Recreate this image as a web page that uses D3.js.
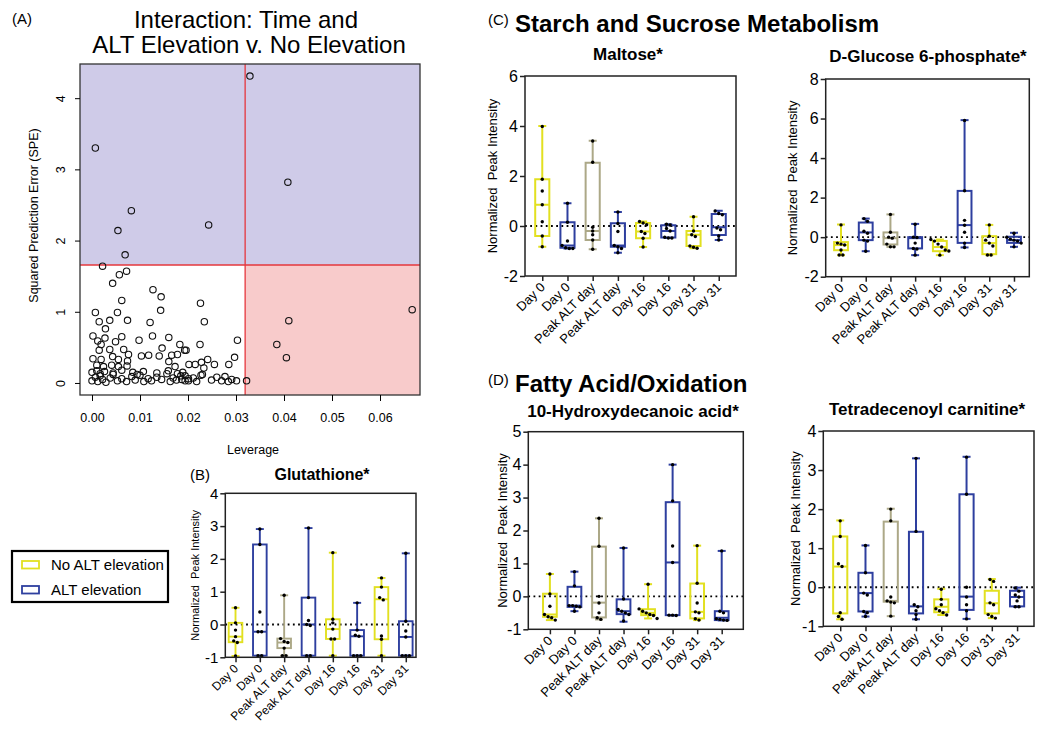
<!DOCTYPE html>
<html><head><meta charset="utf-8">
<script src="https://cdn.jsdelivr.net/npm/d3@7"></script>
<style>body{margin:0;background:#fff} svg{display:block} text{font-family:"Liberation Sans",Arial,sans-serif;fill:#000}</style>
</head><body><svg id="c" width="1050" height="729"></svg>
<script>
// ---------------- DATA ----------------
// Panel A: [leverage, SPE]
const scatterPoints = [
 [0.0329,4.31],[0.0007,3.30],[0.0082,2.42],[0.0054,2.14],[0.0069,1.80],[0.0243,2.22],[0.0408,2.82],
 [0.0410,0.875],[0.0385,0.54],[0.0405,0.355],[0.0667,1.03],[0.0322,0.03],
 [0.0022,1.64],[0.0057,1.52],[0.0072,1.57],[0.0043,1.40],[0.0127,1.31],[0.0144,1.21],[0.0062,1.16],[0.0143,1.02],
 [0.0007,0.99],[0.0053,0.99],[0.0015,0.86],[0.0037,0.88],[0.0074,0.88],[0.0121,0.85],[0.0028,0.76],[0.0002,0.66],
 [0.0027,0.63],[0.0012,0.59],[0.0062,0.65],[0.0098,0.60],[0.0126,0.66],[0.0160,0.64],[0.0049,0.58],[0.0019,0.54],
 [0.0015,0.46],[0.0037,0.47],[0.0066,0.47],[0.0076,0.40],[0.0103,0.38],[0.0118,0.39],[0.0146,0.49],[0.0140,0.38],
 [0.0166,0.39],[0.0178,0.40],[0.0193,0.46],[0.0002,0.34],[0.0019,0.33],[0.0043,0.37],[0.0055,0.33],[0.0074,0.31],
 [0.0010,0.25],[0.0024,0.23],[0.0041,0.25],[0.0055,0.23],[0.0073,0.24],[0.0173,0.23],[0.0160,0.30],
 [0.0226,1.12],[0.0234,0.86],[0.0303,0.60],[0.0225,0.54],[0.0196,0.46],[0.0183,0.54],[0.0297,0.36],[0.0241,0.33],
 [0.0202,0.26],[0.0215,0.26],[0.0228,0.29],[0.0255,0.26],[0.0285,0.26],[0.0233,0.21],[0.0227,0.11],
 [0.0000,0.03],[0.0007,0.08],[0.0012,0.02],[0.0017,0.10],[0.0022,0.05],[0.0029,0.01],[0.0038,0.07],[0.0044,0.12],
 [0.0053,0.03],[0.0062,0.06],[0.0072,0.02],[0.0083,0.09],[0.0090,0.04],[0.0100,0.11],[0.0108,0.02],[0.0117,0.06],
 [0.0124,0.03],[0.0135,0.08],[0.0145,0.05],[0.0156,0.13],[0.0163,0.02],[0.0169,0.07],[0.0176,0.04],[0.0185,0.10],
 [0.0194,0.03],[0.0201,0.06],
 [0.0000,0.15],[0.0010,0.17],[0.0017,0.13],[0.0026,0.16],[0.0044,0.14],[0.0062,0.18],[0.0085,0.15],[0.0094,0.12],
 [0.0107,0.16],[0.0135,0.14],[0.0159,0.17],[0.0178,0.13],[0.0189,0.15],
 [0.0187,0.05],[0.0194,0.10],[0.0201,0.03],[0.0211,0.07],[0.0218,0.02],[0.0230,0.12],[0.0249,0.04],[0.0260,0.08],
 [0.0270,0.03],[0.0277,0.09],[0.0284,0.02],[0.0291,0.05],[0.0301,0.03]
];
const speLimit = 1.657;
const leverageLimit = 0.0319;
const leverageTicks = [0,0.01,0.02,0.03,0.04,0.05,0.06];
const speTicks = [0,1,2,3,4];

// Box-plot categories
const boxCategories = ["Day 0","Day 0","Peak ALT day","Peak ALT day","Day 16","Day 16","Day 31","Day 31"];
const boxGroups = ["no","alt","peak","alt","no","alt","no","alt"];
const legendLabels = ["No ALT elevation","ALT elevation"];

// stats: [min, q1, median, q3, max]
const glutathioneStats = [
 [-0.96,-0.54,-0.37,0.05,0.51],[-0.95,-0.95,-0.22,2.44,2.91],[-0.95,-0.72,-0.55,-0.43,0.89],[-0.95,-0.95,0.0,0.82,2.94],
 [-0.95,-0.44,-0.14,0.16,2.19],[-0.95,-0.95,-0.36,-0.17,0.66],[-0.95,-0.45,0.77,1.14,1.42],[-0.95,-0.95,-0.38,0.1,2.17]];
const glutathionePoints = [
 [0.51,0.05,-0.17,-0.37,-0.5,-0.55,-0.96],[2.91,2.44,0.38,-0.22,-0.22,-0.95,-0.95],[0.89,-0.43,-0.52,-0.55,-0.72,-0.95,-0.95],
 [2.94,0.82,0.12,0.0,-0.03,-0.95,-0.95],[2.19,0.16,0.05,-0.14,-0.44,-0.44,-0.95],[0.66,-0.17,-0.33,-0.36,-0.95,-0.95,-0.95],
 [1.42,1.14,0.82,0.75,-0.35,-0.45,-0.95],[2.17,0.1,-0.38,-0.2,-0.95,-0.95,-0.95]];
const glutathioneTicks = [-1,0,1,2,3,4];

const maltoseStats = [
 [-0.83,-0.4,0.85,1.87,4.0],[-0.9,-0.87,-0.78,0.15,0.91],[-0.93,-0.56,-0.2,2.53,3.41],[-1.07,-0.83,-0.78,0.11,0.56],
 [-0.84,-0.49,-0.22,0.12,0.18],[-0.48,-0.46,-0.2,0.03,0.07],[-0.89,-0.8,-0.35,-0.2,0.37],[-0.56,-0.36,-0.05,0.48,0.61]];
const maltosePoints = [
 [3.98,1.87,1.4,0.85,0.17,-0.4,-0.83],[0.91,0.15,-0.6,-0.78,-0.87,-0.9,-0.9],[3.4,2.55,-0.05,-0.2,-0.35,-0.56,-0.93],
 [0.56,0.1,-0.22,-0.78,-0.83,-0.9,-1.07],[0.18,0.12,0.05,-0.22,-0.3,-0.49,-0.84],[0.07,0.04,-0.1,-0.2,-0.45,-0.48,-0.48],
 [0.37,-0.2,-0.35,-0.42,-0.8,-0.85,-0.89],[0.6,0.5,0.45,-0.08,-0.15,-0.4,-0.56]];
const maltoseTicks = [-2,0,2,4,6];

const g6pStats = [
 [-0.91,-0.66,-0.4,-0.25,0.64],[-0.71,-0.15,0.24,0.74,0.94],[-0.49,-0.37,-0.05,0.24,1.15],[-0.91,-0.57,-0.05,0.0,0.67],
 [-0.91,-0.71,-0.5,-0.19,-0.12],[-0.52,-0.29,0.61,2.34,5.92],[-0.91,-0.86,-0.3,0.05,0.62],[-0.49,-0.29,-0.15,0.02,0.22]];
const g6pPoints = [
 [0.62,-0.3,-0.35,-0.4,-0.65,-0.9,-0.9],[0.94,0.8,0.3,0.2,-0.15,-0.2,-0.71],[1.15,0.25,0.0,-0.05,-0.35,-0.49,-0.49],
 [0.65,0.0,-0.02,-0.3,-0.57,-0.6,-0.91],[-0.12,-0.2,-0.35,-0.5,-0.65,-0.7,-0.91],[5.9,2.35,0.85,0.6,0.25,-0.3,-0.52],
 [0.62,0.05,-0.15,-0.3,-0.45,-0.9,-0.9],[0.2,0.0,-0.1,-0.15,-0.2,-0.3,-0.49]];
const g6pTicks = [-2,0,2,4,6,8];

const hdaStats = [
 [-0.72,-0.62,-0.55,0.08,0.68],[-0.45,-0.32,-0.28,0.29,0.75],[-0.7,-0.64,-0.19,1.51,2.37],[-0.77,-0.54,-0.45,-0.09,1.47],
 [-0.67,-0.57,-0.5,-0.39,0.37],[-0.58,-0.57,1.03,2.86,4.0],[-0.72,-0.67,-0.47,0.39,1.54],[-0.73,-0.72,-0.65,-0.45,1.38]];
const hdaPoints = [
 [0.68,0.07,-0.3,-0.55,-0.62,-0.65,-0.72],[0.75,0.32,-0.28,-0.28,-0.3,-0.32,-0.45],[2.37,1.52,0.0,-0.2,-0.5,-0.65,-0.7],
 [1.47,-0.08,-0.4,-0.45,-0.5,-0.55,-0.75],[0.37,-0.38,-0.45,-0.5,-0.55,-0.58,-0.67],[4.0,2.9,1.53,1.03,-0.57,-0.57,-0.58],
 [1.54,0.4,-0.2,-0.47,-0.5,-0.68,-0.72],[1.38,-0.45,-0.5,-0.68,-0.7,-0.72,-0.73]];
const hdaTicks = [-1,0,1,2,3,4,5];

const tdcStats = [
 [-0.82,-0.67,0.53,1.3,1.71],[-0.75,-0.62,-0.15,0.37,1.07],[-0.74,-0.37,-0.35,1.68,2.01],[-0.82,-0.67,-0.49,1.42,3.3],
 [-0.71,-0.64,-0.5,-0.31,-0.04],[-0.81,-0.58,-0.24,2.38,3.34],[-0.79,-0.67,-0.41,-0.09,0.21],[-0.5,-0.49,-0.25,-0.09,-0.01]];
const tdcPoints = [
 [1.7,1.3,0.6,0.53,-0.65,-0.75,-0.82],[1.07,0.37,-0.15,-0.2,-0.62,-0.65,-0.75],[2.0,1.7,-0.25,-0.35,-0.38,-0.4,-0.74],
 [3.3,1.43,-0.45,-0.5,-0.6,-0.7,-0.82],[-0.05,-0.31,-0.45,-0.55,-0.6,-0.65,-0.71],[3.33,2.38,0.0,-0.25,-0.45,-0.6,-0.81],
 [0.2,0.15,-0.4,-0.45,-0.7,-0.75,-0.79],[-0.02,-0.1,-0.2,-0.25,-0.35,-0.5,-0.5]];
const tdcTicks = [-1,0,1,2,3,4];

// ---------------- STYLE ----------------
const colorMap = {no:"#e2e020", alt:"#2e3f9f", peak:"#aca887"};
const svg = d3.select("#c");
const FONT = '"Liberation Sans",Arial,sans-serif';

// ---------------- PANEL A ----------------
(function(){
  const L=80,R=420,T=64,B=395;
  const x = d3.scaleLinear().domain([-0.0025,0.06833]).range([L,R]);
  const y = d3.scaleLinear().domain([-0.169,4.48]).range([B,T]);
  const g = svg.append("g");
  const xl = x(leverageLimit), yl = y(speLimit);
  g.append("rect").attr("x",L).attr("y",T).attr("width",R-L).attr("height",yl-T).attr("fill","#cfcbe8");
  g.append("rect").attr("x",xl).attr("y",yl).attr("width",R-xl).attr("height",B-yl).attr("fill","#f8cbcb");
  g.append("line").attr("x1",L).attr("x2",R).attr("y1",yl).attr("y2",yl).attr("stroke","#e5373d").attr("stroke-width",1.3);
  g.append("line").attr("x1",xl).attr("x2",xl).attr("y1",T).attr("y2",B).attr("stroke","#e5373d").attr("stroke-width",1.3);
  g.selectAll("circle.p").data(scatterPoints).enter().append("circle")
    .attr("cx",d=>x(d[0])).attr("cy",d=>y(d[1])).attr("r",3.2)
    .attr("fill","none").attr("stroke","#111").attr("stroke-width",1.1);
  g.append("rect").attr("x",L).attr("y",T).attr("width",R-L).attr("height",B-T)
    .attr("fill","none").attr("stroke","#333").attr("stroke-width",1.3);
  const xa = g.append("g").attr("transform",`translate(0,${B})`)
    .call(d3.axisBottom(x).tickValues(leverageTicks).tickSize(6).tickSizeOuter(0).tickFormat(d3.format(".2f")));
  xa.select(".domain").remove();
  xa.selectAll("text").attr("font-size",12.5).attr("font-family",FONT).attr("dy","1.4em");
  const ya = g.append("g").attr("transform",`translate(${L},0)`)
    .call(d3.axisLeft(y).tickValues(speTicks).tickSize(5).tickSizeOuter(0).tickFormat(d3.format("d")));
  ya.select(".domain").remove();
  ya.selectAll("text").attr("font-size",12.5).attr("font-family",FONT)
    .attr("text-anchor","middle").attr("x",0).attr("dy",0)
    .attr("transform","translate(-19,0) rotate(-90)").attr("dy","0.35em");
  g.append("text").attr("x",253).attr("y",454).attr("text-anchor","middle").attr("font-size",12.5).text("Leverage");
  g.append("text").attr("transform",`translate(38,${(T+B)/2-14}) rotate(-90)`).attr("text-anchor","middle")
    .attr("font-size",12.5).text("Squared Prediction Error (SPE)");
  svg.append("text").attr("x",12).attr("y",24).attr("font-size",15).text("(A)");
  svg.append("text").attr("x",246).attr("y",28).attr("text-anchor","middle").attr("font-size",24).text("Interaction: Time and");
  svg.append("text").attr("x",249).attr("y",53).attr("text-anchor","middle").attr("font-size",24).text("ALT Elevation v. No Elevation");
})();

// ---------------- BOX PANELS ----------------
function boxPanel(cfg, stats, points, ticks){
  const g = svg.append("g");
  const x = d3.scalePoint().domain(d3.range(boxCategories.length)).range([cfg.L,cfg.R]).padding(cfg.pad);
  const y = d3.scaleLinear().domain([ticks[0],ticks[ticks.length-1]]).range([cfg.B,cfg.T]);
  const step = x.step(), bw = step*0.56, cap = 4;
  // zero dotted line
  g.append("line").attr("x1",cfg.L).attr("x2",cfg.R).attr("y1",y(0)).attr("y2",y(0))
    .attr("stroke","#000").attr("stroke-width",1.8).attr("stroke-dasharray","1.8,3.4");
  const bx = g.selectAll("g.box").data(stats).enter().append("g");
  bx.each(function(s,i){
    const gg=d3.select(this), cx=x(i), col=colorMap[boxGroups[i]];
    const sw = cfg.sw||2;
    gg.append("line").attr("x1",cx).attr("x2",cx).attr("y1",y(s[4])).attr("y2",y(s[3])).attr("stroke",col).attr("stroke-width",sw);
    gg.append("line").attr("x1",cx).attr("x2",cx).attr("y1",y(s[1])).attr("y2",y(s[0])).attr("stroke",col).attr("stroke-width",sw);
    gg.append("line").attr("x1",cx-cap).attr("x2",cx+cap).attr("y1",y(s[4])).attr("y2",y(s[4])).attr("stroke",col).attr("stroke-width",sw);
    gg.append("line").attr("x1",cx-cap).attr("x2",cx+cap).attr("y1",y(s[0])).attr("y2",y(s[0])).attr("stroke",col).attr("stroke-width",sw);
    gg.append("rect").attr("x",cx-bw/2).attr("y",y(s[3])).attr("width",bw).attr("height",Math.max(0.5,y(s[1])-y(s[3])))
      .attr("fill","none").attr("stroke",col).attr("stroke-width",sw);
    gg.append("line").attr("x1",cx-bw/2).attr("x2",cx+bw/2).attr("y1",y(s[2])).attr("y2",y(s[2])).attr("stroke",col).attr("stroke-width",sw);
    // dots with horizontal spreading for overlaps
    const py = points[i].map(v=>y(v)).sort((a,b)=>a-b);
    const clusters=[]; py.forEach(v=>{const c=clusters[clusters.length-1]; if(c && v-c[c.length-1]<3.2) c.push(v); else clusters.push([v]);});
    clusters.forEach(c=>{c.forEach((v,k)=>{const off=(k-(c.length-1)/2)*3.6;
      gg.append("circle").attr("cx",cx+off).attr("cy",v).attr("r",1.7).attr("fill","#000");});});
  });
  // frame
  g.append("rect").attr("x",cfg.L).attr("y",cfg.T).attr("width",cfg.R-cfg.L).attr("height",cfg.B-cfg.T)
    .attr("fill","none").attr("stroke","#222").attr("stroke-width",1.5);
  const ya = g.append("g").attr("transform",`translate(${cfg.L},0)`)
    .call(d3.axisLeft(y).tickValues(ticks).tickSize(5).tickSizeOuter(0).tickFormat(d=>String(d)));
  ya.select(".domain").remove();
  ya.selectAll("line").attr("stroke","#222").attr("stroke-width",1.5);
  ya.selectAll("text").attr("font-size",cfg.tf).attr("font-family",FONT).attr("fill","#000").attr("x",-7);
  const xa = g.append("g").attr("transform",`translate(0,${cfg.B})`)
    .call(d3.axisBottom(x).tickSize(5).tickSizeOuter(0).tickFormat(i=>boxCategories[i]));
  xa.select(".domain").remove();
  xa.selectAll("line").attr("stroke","#222").attr("stroke-width",1.5);
  xa.selectAll("text").attr("font-size",cfg.xf).attr("font-family",FONT).attr("fill","#000")
    .attr("text-anchor","end").attr("dy",0).attr("y",0)
    .attr("transform","translate(3,12) rotate(-45)");
  g.append("text").attr("transform",`translate(${cfg.yx},${(cfg.T+cfg.B)/2}) rotate(-90)`).attr("text-anchor","middle")
    .attr("font-size",cfg.yf).attr("xml:space","preserve").style("white-space","pre").text("Normalized  Peak Intensity");
  g.append("text").attr("x",cfg.tx).attr("y",cfg.ty).attr("text-anchor","middle").attr("font-size",cfg.ttf||17)
    .attr("font-weight","bold").text(cfg.title);
}

boxPanel({L:225.3,R:416,T:493.3,B:657.3,pad:0.42,tf:15,xf:12,yf:11,yx:199,title:"Glutathione*",tx:322,ty:480,ttf:16,sw:1.9},
  glutathioneStats, glutathionePoints, glutathioneTicks);
boxPanel({L:525,R:736,T:76,B:276,pad:0.685,tf:16,xf:13,yf:13,yx:497,title:"Maltose*",tx:628,ty:60},
  maltoseStats, maltosePoints, maltoseTicks);
boxPanel({L:825.7,R:1029.3,T:79,B:276.7,pad:0.62,tf:16,xf:13,yf:13,yx:797,title:"D-Glucose 6-phosphate*",tx:928,ty:62},
  g6pStats, g6pPoints, g6pTicks);
boxPanel({L:528.3,R:743.3,T:431.7,B:629.3,pad:0.88,tf:16,xf:13,yf:13,yx:507,title:"10-Hydroxydecanoic acid*",tx:633,ty:417},
  hdaStats, hdaPoints, hdaTicks);
boxPanel({L:823.3,R:1034,T:431,B:626.3,pad:0.67,tf:16,xf:13,yf:13,yx:800,title:"Tetradecenoyl carnitine*",tx:927,ty:415},
  tdcStats, tdcPoints, tdcTicks);

// headings
svg.append("text").attr("x",190).attr("y",480).attr("font-size",15).text("(B)");
svg.append("text").attr("x",488).attr("y",25).attr("font-size",15).text("(C)");
svg.append("text").attr("x",515).attr("y",32).attr("font-size",24).attr("font-weight","bold").text("Starch and Sucrose Metabolism");
svg.append("text").attr("x",488).attr("y",385).attr("font-size",15).text("(D)");
svg.append("text").attr("x",515).attr("y",392).attr("font-size",24).attr("font-weight","bold").text("Fatty Acid/Oxidation");

// legend
(function(){
  const g=svg.append("g");
  g.append("rect").attr("x",12).attr("y",551).attr("width",156).attr("height",51).attr("fill","#fff").attr("stroke","#000").attr("stroke-width",2.2);
  const keys=["no","alt"];
  keys.forEach((k,i)=>{
    g.append("rect").attr("x",22).attr("y",561+i*25).attr("width",17).attr("height",7.5).attr("fill","none").attr("stroke",colorMap[k]).attr("stroke-width",1.8);
    g.append("text").attr("x",51).attr("y",570+i*25).attr("font-size",15).text(legendLabels[i]);
  });
})();
</script></body></html>
